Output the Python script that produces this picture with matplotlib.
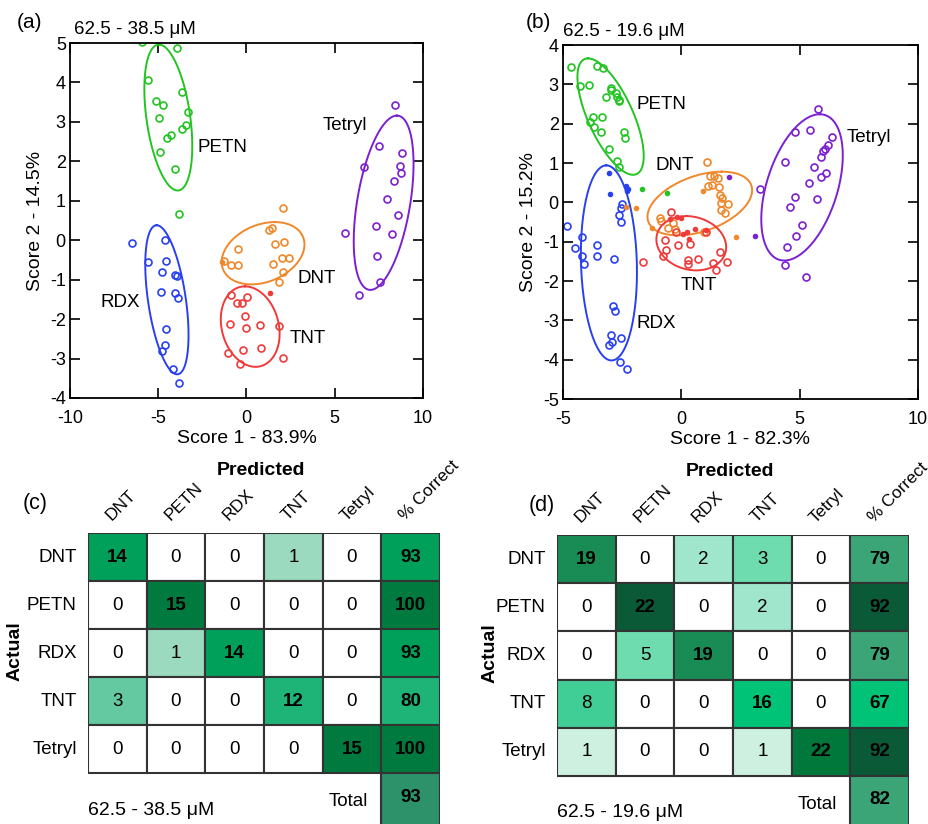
import matplotlib
matplotlib.use("Agg")
import matplotlib.pyplot as plt
from matplotlib.patches import Rectangle
import numpy as np

plt.rcParams['font.family'] = ['Liberation Sans', 'DejaVu Sans']
plt.rcParams['axes.unicode_minus'] = False

# ---------------- data: PCA scores, panel (a) 62.5 - 38.5 uM ----------------
petn_a_x = [-5.94, -3.95, -5.60, -3.65, -5.13, -4.74, -3.30, -4.98, -3.45, -3.65, -4.27, -4.53, -4.91, -4.03, -3.80]
petn_a_y = [5.02, 4.88, 4.07, 3.75, 3.52, 3.42, 3.25, 3.10, 2.92, 2.82, 2.67, 2.60, 2.24, 1.80, 0.67]
rdx_a_x = [-6.46, -4.63, -5.58, -4.57, -4.78, -4.03, -3.93, -4.85, -4.03, -3.86, -4.57, -4.59, -4.79, -4.16, -3.84]
rdx_a_y = [-0.07, 0.00, -0.56, -0.53, -0.81, -0.87, -0.90, -1.31, -1.34, -1.46, -2.26, -2.66, -2.80, -3.27, -3.63]
dnt_a_x = [2.08, 1.44, 1.25, 1.63, 2.12, -0.49, -1.27, -0.90, -0.49, 2.00, 2.43, 1.48, 2.08, 1.84]
dnt_a_y = [0.82, 0.32, 0.25, -0.09, -0.05, -0.21, -0.52, -0.63, -0.63, -0.46, -0.45, -0.60, -0.80, -1.07]
tnt_a_x = [-0.88, 0.02, -0.56, -0.24, -0.06, -0.96, 0.79, 0.00, 1.84, -1.05, -0.22, 0.81, -0.36, 2.08]
tnt_a_y = [-1.39, -1.45, -1.60, -1.60, -1.92, -2.12, -2.15, -2.23, -2.18, -2.87, -2.79, -2.72, -3.13, -2.98]
tetryl_a_x = [8.39, 7.51, 8.82, 6.65, 8.71, 8.78, 8.37, 7.98, 8.58, 5.58, 7.36, 8.26, 7.42, 7.55, 6.40]
tetryl_a_y = [3.42, 2.38, 2.21, 1.85, 1.88, 1.70, 1.50, 1.05, 0.63, 0.19, 0.35, 0.17, -0.40, -1.06, -1.38]
# misclassified samples (filled)
dnt_a_mis_x, dnt_a_mis_y = [-1.36], [-0.55]
tnt_a_mis_x, tnt_a_mis_y = [1.31], [-1.35]

# ellipses: centre, vector to topmost point, horizontal half width at centre
ell_a_center = [(-4.43, 3.11), (-4.51, -1.51), (0.94, -0.33), (0.21, -2.19), (7.77, 0.95)]
ell_a_top = [(-0.53, 1.85), (-0.58, 1.89), (0.66, 0.79), (-0.30, 1.02), (0.75, 2.21)]
ell_a_half = [1.25, 1.08, 2.25, 1.64, 1.52]

# ---------------- data: PCA scores, panel (b) 62.5 - 19.6 uM ----------------
petn_b_x = [-4.65, -3.56, -3.31, -4.30, -3.90, -2.99, -2.96, -2.77, -3.17, -2.70, -2.65, -2.63, -3.75, -3.35, -3.87, -3.68, -3.38, -2.42, -2.39, -3.06, -2.72, -2.63]
petn_b_y = [3.44, 3.47, 3.42, 2.95, 2.98, 2.90, 2.86, 2.79, 2.67, 2.67, 2.61, 2.57, 2.16, 2.18, 2.05, 1.91, 1.80, 1.80, 1.63, 1.35, 1.04, 0.91]
rdx_b_x = [-2.51, -2.56, -2.63, -2.56, -4.83, -4.18, -4.51, -3.55, -3.56, -4.20, -4.13, -2.86, -2.89, -2.80, -2.97, -2.54, -2.93, -3.07, -2.58, -2.30]
rdx_b_y = [-0.04, -0.14, -0.32, -0.51, -0.59, -0.88, -1.17, -1.08, -1.37, -1.37, -1.57, -1.44, -2.64, -2.76, -3.38, -3.45, -3.56, -3.63, -4.05, -4.23]
dnt_b_x = [1.08, 1.21, 1.37, 1.56, 1.14, 1.31, 1.61, 1.65, 1.70, 1.69, 1.96, 1.68, 1.86, -0.89, -0.86, -0.37, -0.58, 0.94, -0.28]
dnt_b_y = [1.02, 0.66, 0.66, 0.63, 0.42, 0.44, 0.38, 0.18, 0.11, -0.02, -0.03, -0.19, -0.27, -0.40, -0.48, -0.52, -0.65, -0.75, -0.68]
tnt_b_x = [-1.62, -0.42, -0.70, -0.66, -0.77, -0.14, 0.35, 0.28, 0.28, 0.70, 1.06, 1.65, 1.34, 1.93, 1.48, -0.24]
tnt_b_y = [-1.52, -0.25, -0.97, -1.22, -1.37, -1.08, -1.05, -1.47, -1.58, -1.44, -0.75, -1.27, -1.54, -1.52, -1.71, -0.76]
tetryl_b_x = [5.77, 4.79, 5.45, 6.38, 6.21, 6.07, 5.99, 5.92, 4.38, 5.59, 6.13, 5.92, 5.39, 3.32, 4.82, 5.73, 4.58, 5.10, 4.86, 4.46, 4.37, 5.28]
tetryl_b_y = [2.37, 1.80, 1.83, 1.65, 1.45, 1.35, 1.31, 1.14, 1.02, 0.89, 0.75, 0.64, 0.49, 0.34, 0.13, 0.08, -0.13, -0.58, -0.85, -1.14, -1.60, -1.90]
petn_b_mis_x, petn_b_mis_y = [-1.66, -0.62], [0.35, 0.24]
rdx_b_mis_x, rdx_b_mis_y = [-3.07, -3.03, -2.35, -2.28, -2.24], [0.75, 0.21, 0.41, 0.30, 0.34]
dnt_b_mis_x, dnt_b_mis_y = [-2.32, -1.90, -1.23, 0.92, 2.32], [-0.12, -0.14, -0.65, 0.28, -0.89]
tnt_b_mis_x = [-0.17, -0.03, 0.24, 0.31, 1.06, -0.49, 0.56, 0.07]
tnt_b_mis_y = [-0.38, -0.41, -0.75, -0.93, -0.71, -0.42, -0.69, -0.80]
tetryl_b_mis_x, tetryl_b_mis_y = [2.03, 3.10], [0.64, -0.86]

ell_b_center = [(-2.99, 2.18), (-3.06, -1.54), (0.78, -0.03), (0.42, -1.04), (5.10, 0.38)]
ell_b_top = [(-0.95, 1.48), (-0.11, 2.48), (0.92, 0.81), (-0.21, 0.69), (0.75, 1.86)]
ell_b_half = [1.03, 1.18, 2.01, 1.46, 1.55]

# ---------------- data: confusion matrices ----------------
classes = ["DNT", "PETN", "RDX", "TNT", "Tetryl"]
conf_c = [[14, 0, 0, 1, 0],
          [0, 15, 0, 0, 0],
          [0, 1, 14, 0, 0],
          [3, 0, 0, 12, 0],
          [0, 0, 0, 0, 15]]
pct_c = [93, 100, 93, 80, 100]
total_c = 93
conf_d = [[19, 0, 2, 3, 0],
          [0, 22, 0, 2, 0],
          [0, 5, 19, 0, 0],
          [8, 0, 0, 16, 0],
          [1, 0, 0, 1, 22]]
pct_d = [79, 92, 79, 67, 92]
total_d = 82

# cell colours (style)
W = "#ffffff"
col_c = [["#00a05a", W, W, "#9bdabe", W, "#00a05a"],
         [W, "#007a3e", W, W, W, "#007a3e"],
         [W, "#9bdabe", "#00a05a", W, W, "#00a05a"],
         ["#64c8a0", W, W, "#1eb478", W, "#1eb478"],
         [W, W, W, W, "#007a3e", "#007a3e"]]
total_col_c = "#2d9169"
col_d = [["#198c55", W, "#a0e6cd", "#6edcaf", W, "#3ca578"],
         [W, "#0a5a37", W, "#a0e6cd", W, "#0a5a37"],
         [W, "#6edcaf", "#198c55", W, W, "#3ca578"],
         ["#41cd96", W, W, "#00c378", W, "#00c378"],
         ["#cdf0e1", W, W, "#cdf0e1", "#00783c", "#0a5a37"]]
total_col_d = "#3ca578"

green = "#22c422"
blue = "#2840f0"
orange = "#f0882a"
red = "#f03a3a"
purple = "#7b1fd2"
colors = [green, blue, orange, red, purple]

FW, FH = 929, 824
fig = plt.figure(figsize=(FW / 100, FH / 100), dpi=100)


def box(l, t, r, b):
    return [l / FW, 1 - b / FH, (r - l) / FW, (b - t) / FH]


def ellipse(ax, c, a, h, color):
    t = np.linspace(0, 2 * np.pi, 200)
    x = c[0] + a[0] * np.cos(t) + h * np.sin(t)
    y = c[1] + a[1] * np.cos(t)
    ax.plot(x, y, color=color, lw=1.4)


def open_pts(ax, x, y, color):
    ax.plot(x, y, 'o', ms=5, mfc='none', mec=color, mew=1.2)


def filled_pts(ax, x, y, color):
    ax.plot(x, y, 'o', ms=4, mfc=color, mec=color, mew=0)


def style_axes(ax, xlim, ylim, xt, yt, xlabel, ylabel):
    ax.set_xlim(xlim)
    ax.set_ylim(ylim)
    ax.set_xticks(xt)
    ax.set_yticks(yt)
    ax.tick_params(direction='in', top=True, right=True, length=7, width=1.2, labelsize=13, pad=3)
    ax.tick_params(axis='x', pad=8.5)
    for s in ax.spines.values():
        s.set_linewidth(1.3)
    ax.set_xlabel(xlabel, fontsize=14, labelpad=2)
    ax.set_ylabel(ylabel, fontsize=14, labelpad=4)


# ---------- (a) ----------
ax = fig.add_axes(box(70, 43, 423, 398))
pts_a = [(petn_a_x, petn_a_y), (rdx_a_x, rdx_a_y), (dnt_a_x, dnt_a_y), (tnt_a_x, tnt_a_y), (tetryl_a_x, tetryl_a_y)]
for i in range(5):
    ellipse(ax, ell_a_center[i], ell_a_top[i], ell_a_half[i], colors[i])
    open_pts(ax, pts_a[i][0], pts_a[i][1], colors[i])
filled_pts(ax, dnt_a_mis_x, dnt_a_mis_y, orange)
filled_pts(ax, tnt_a_mis_x, tnt_a_mis_y, red)
style_axes(ax, (-10, 10), (-4, 5), [-10, -5, 0, 5, 10], range(-4, 6),
           "Score 1 - 83.9%", "Score 2 - 14.5%")
lab = dict(fontsize=13.5, va='center', ha='left')
ax.text(-2.75, 2.34, "PETN", **lab)
ax.text(4.31, 2.92, "Tetryl", **lab)
ax.text(-8.28, -1.57, "RDX", **lab)
ax.text(2.87, -0.98, "DNT", **lab)
ax.text(2.47, -2.50, "TNT", **lab)
fig.text(17 / FW, 1 - 23 / FH, "(a)", fontsize=15, va='center')
fig.text(74 / FW, 1 - 29 / FH, "62.5 - 38.5 \u03bcM", fontsize=13.5, va='center')

# ---------- (b) ----------
ax = fig.add_axes(box(563, 45, 918, 399))
pts_b = [(petn_b_x, petn_b_y), (rdx_b_x, rdx_b_y), (dnt_b_x, dnt_b_y), (tnt_b_x, tnt_b_y), (tetryl_b_x, tetryl_b_y)]
for i in range(5):
    ellipse(ax, ell_b_center[i], ell_b_top[i], ell_b_half[i], colors[i])
    open_pts(ax, pts_b[i][0], pts_b[i][1], colors[i])
filled_pts(ax, petn_b_mis_x, petn_b_mis_y, green)
filled_pts(ax, rdx_b_mis_x, rdx_b_mis_y, blue)
filled_pts(ax, dnt_b_mis_x, dnt_b_mis_y, orange)
filled_pts(ax, tnt_b_mis_x, tnt_b_mis_y, red)
filled_pts(ax, tetryl_b_mis_x, tetryl_b_mis_y, purple)
style_axes(ax, (-5, 10), (-5, 4), [-5, 0, 5, 10], range(-5, 5),
           "Score 1 - 82.3%", "Score 2 - 15.2%")
ax.text(-1.90, 2.48, "PETN", **lab)
ax.text(-1.08, 0.93, "DNT", **lab)
ax.text(7.0, 1.65, "Tetryl", **lab)
ax.text(-0.03, -2.12, "TNT", **lab)
ax.text(-1.90, -3.08, "RDX", **lab)
fig.text(526 / FW, 1 - 23 / FH, "(b)", fontsize=15, va='center')
fig.text(563 / FW, 1 - 31 / FH, "62.5 - 19.6 \u03bcM", fontsize=13.5, va='center')


# ---------- confusion matrices ----------
def matrix(ax, conf, pct, total, cols, total_col, ybottom, conc, tag, tag_x, actual_x):
    ax.set_xlim(-0.5, 5.5)
    ax.set_ylim(ybottom, -0.5)
    ax.axis('off')
    n = len(conf)
    for i in range(n):
        row = list(conf[i]) + [pct[i]]
        for j in range(n + 1):
            ax.add_patch(Rectangle((j - 0.5, i - 0.5), 1, 1, facecolor=cols[i][j],
                                   edgecolor="#333333", lw=1.5))
            bold = (i == j) or (j == n)
            ax.text(j, i, str(row[j]), ha='center', va='center', fontsize=13.5,
                    fontweight='bold' if bold else 'normal')
    ax.add_patch(Rectangle((n - 0.5, n - 0.5), 1, 1.5, facecolor=total_col,
                           edgecolor="#333333", lw=1.5, clip_on=True))
    ax.text(n, n, str(total), ha='center', va='center', fontsize=13.5, fontweight='bold')
    ax.text(4.27, 5.1, "Total", ha='right', va='center', fontsize=13.5)
    ax.text(-0.5, 5.27, conc, ha='left', va='center', fontsize=14)
    for i, c in enumerate(classes):
        ax.text(-0.69, i, c, ha='right', va='center', fontsize=13.5)
    for j, c in enumerate(classes + ["% Correct"]):
        ax.text(j - 0.1, -0.74, c, ha='left', va='baseline', rotation=45,
                rotation_mode='anchor', fontsize=12.5)
    ax.text(2.45, -1.81, "Predicted", ha='center', va='center', fontsize=14, fontweight='bold')
    ax.text(actual_x, 1.96, "Actual", ha='center', va='center', rotation=90,
            fontsize=14, fontweight='bold')
    ax.text(tag_x, -1.12, tag, ha='left', va='center', fontsize=15.5)


ax = fig.add_axes(box(88, 533, 440, 824))
matrix(ax, conf_c, pct_c, total_c, col_c, total_col_c, 5.56, "62.5 - 38.5 \u03bcM", "(c)", -1.62, -1.74)
ax = fig.add_axes(box(557, 535, 909, 824))
matrix(ax, conf_d, pct_d, total_d, col_d, total_col_d, 5.5, "62.5 - 19.6 \u03bcM", "(d)", -0.99, -1.64)

plt.savefig("out.png", dpi=100)
